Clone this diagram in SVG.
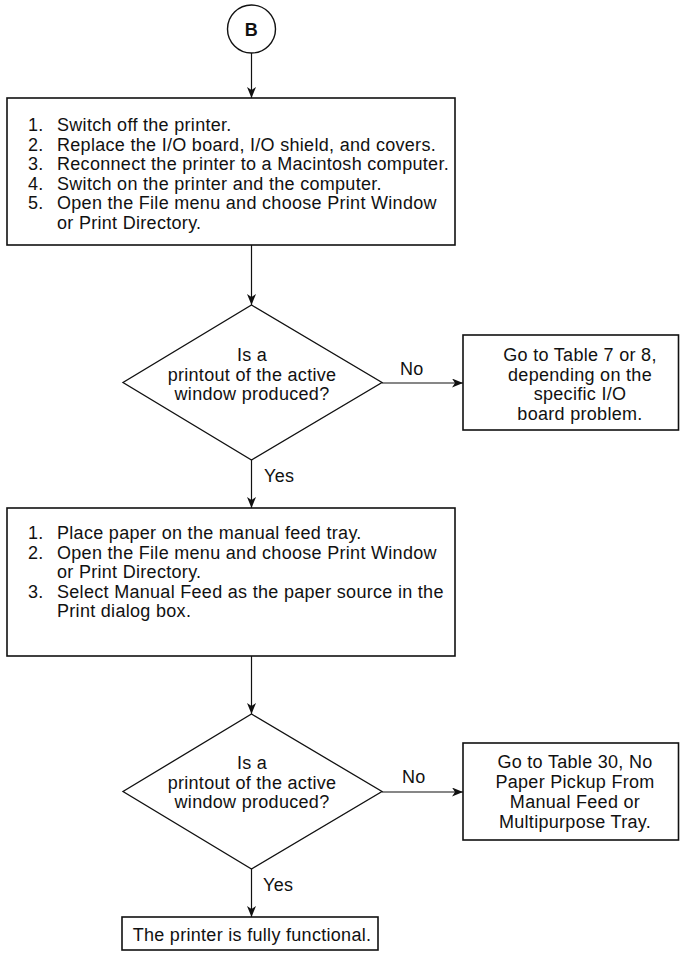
<svg xmlns="http://www.w3.org/2000/svg" width="680" height="957" viewBox="0 0 680 957">
<style>
text{font-family:"Liberation Sans",Arial,Helvetica,sans-serif;font-size:18px;letter-spacing:0.3px;fill:#111}
.c{text-anchor:middle}
.box{fill:#fff;stroke:#111;stroke-width:1.6}
.dia{fill:#fff;stroke:#111;stroke-width:1.3}
.ln{fill:none;stroke:#111;stroke-width:1.2}
.b{font-weight:bold;font-size:18px}
</style>
<defs>
<marker id="ah" markerUnits="userSpaceOnUse" markerWidth="12" markerHeight="10" refX="11" refY="4.5" orient="auto">
<path d="M0,0 L11,4.5 L0,9 L3,4.5 Z" fill="#111"/>
</marker>
</defs>
<rect width="680" height="957" fill="#fff"/>
<g id="connectors">
<line class="ln" x1="251.5" y1="53" x2="251.5" y2="98" marker-end="url(#ah)"/>
<line class="ln" x1="251.5" y1="245" x2="251.5" y2="305" marker-end="url(#ah)"/>
<line class="ln" x1="382" y1="383" x2="463" y2="383" marker-end="url(#ah)"/>
<line class="ln" x1="251.5" y1="460" x2="251.5" y2="508" marker-end="url(#ah)"/>
<line class="ln" x1="251.5" y1="656" x2="251.5" y2="714" marker-end="url(#ah)"/>
<line class="ln" x1="382" y1="792" x2="463" y2="792" marker-end="url(#ah)"/>
<line class="ln" x1="251.5" y1="869" x2="251.5" y2="917" marker-end="url(#ah)"/>
<text x="400" y="375">No</text>
<text x="264" y="482">Yes</text>
<text x="402" y="783">No</text>
<text x="263" y="891">Yes</text>
</g>
<g id="start">
<circle cx="251.5" cy="29" r="24" fill="#fff" stroke="#111" stroke-width="1.4"/>
<text class="c b" x="251.5" y="35.5">B</text>
</g>
<g id="steps1">
<rect class="box" x="7" y="98" width="448" height="147"/>
<text x="28" y="131">1.</text><text x="57" y="131">Switch off the printer.</text>
<text x="28" y="150.5">2.</text><text x="57" y="150.5">Replace the I/O board, I/O shield, and covers.</text>
<text x="28" y="170">3.</text><text x="57" y="170">Reconnect the printer to a Macintosh computer.</text>
<text x="28" y="189.5">4.</text><text x="57" y="189.5">Switch on the printer and the computer.</text>
<text x="28" y="209">5.</text><text x="57" y="209">Open the File menu and choose Print Window</text>
<text x="57" y="228.5">or Print Directory.</text>
</g>
<g id="decision1">
<polygon class="dia" points="251.5,305 382,382.5 251.5,460 123,382.5"/>
<text class="c" x="252" y="361">Is a</text>
<text class="c" x="252" y="380.5">printout of the active</text>
<text class="c" x="252" y="400">window produced?</text>
</g>
<g id="table7">
<rect class="box" x="463" y="335" width="215.5" height="95"/>
<text class="c" x="580" y="361">Go to Table 7 or 8,</text>
<text class="c" x="580" y="380.5">depending on the</text>
<text class="c" x="580" y="400">specific I/O</text>
<text class="c" x="580" y="420">board problem.</text>
</g>
<g id="steps2">
<rect class="box" x="7" y="508" width="448" height="148"/>
<text x="28" y="539">1.</text><text x="57" y="539">Place paper on the manual feed tray.</text>
<text x="28" y="558.5">2.</text><text x="57" y="558.5">Open the File menu and choose Print Window</text>
<text x="57" y="578">or Print Directory.</text>
<text x="28" y="597.5">3.</text><text x="57" y="597.5">Select Manual Feed as the paper source in the</text>
<text x="57" y="617">Print dialog box.</text>
</g>
<g id="decision2">
<polygon class="dia" points="251.5,714 382,791.5 251.5,869 123,791.5"/>
<text class="c" x="252" y="769">Is a</text>
<text class="c" x="252" y="788.5">printout of the active</text>
<text class="c" x="252" y="808">window produced?</text>
</g>
<g id="table30">
<rect class="box" x="463" y="743" width="215.5" height="97"/>
<text class="c" x="575" y="768">Go to Table 30, No</text>
<text class="c" x="575" y="788">Paper Pickup From</text>
<text class="c" x="575" y="808">Manual Feed or</text>
<text class="c" x="575" y="828">Multipurpose Tray.</text>
</g>
<g id="functional">
<rect class="box" x="122" y="917" width="256" height="33"/>
<text class="c" x="252" y="941">The printer is fully functional.</text>
</g>
</svg>
